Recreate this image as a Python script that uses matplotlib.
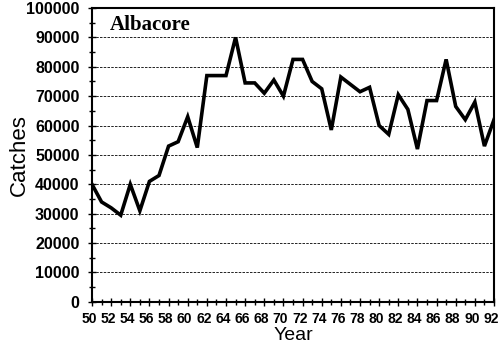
import matplotlib
matplotlib.use("Agg")
import matplotlib.pyplot as plt
import matplotlib.transforms as mtransforms
from matplotlib.ticker import MultipleLocator
from matplotlib import font_manager

years = list(range(50, 93))
catches = [40000, 34000, 32000, 29500, 40000, 31000, 41000, 43000, 53000, 54500,
           63000, 52500, 77000, 77000, 77000, 90000, 74500, 74500, 71000, 75500,
           70000, 82500, 82500, 75000, 72500, 58500, 76500, 74000, 71500, 73000,
           60000, 57000, 70500, 65500, 52000, 68500, 68500, 82500, 66500, 62000,
           68000, 53000, 62000]
xtick_labels = [str(y) for y in range(50, 93, 2)]
ytick_values = list(range(0, 100001, 10000))

names = {f.name for f in font_manager.fontManager.ttflist}
narrow = "Liberation Sans Narrow" if "Liberation Sans Narrow" in names else "DejaVu Sans Condensed" if "DejaVu Sans Condensed" in names else "Liberation Sans"

fig = plt.figure(figsize=(5.0, 3.47), dpi=100)
ax = fig.add_axes([0.184, 0.130, 0.804, 0.847])
ax.plot(years, catches, color="black", linewidth=2.6, solid_joinstyle="miter")
ax.set_xlim(50, 92)
ax.set_ylim(0, 100000)
ax.set_yticks(ytick_values)
ax.set_yticklabels([str(v) for v in ytick_values])
ax.set_xticks(list(range(50, 93, 2)))
ax.set_xticklabels(xtick_labels)
ax.xaxis.set_minor_locator(MultipleLocator(1))
ax.yaxis.set_minor_locator(MultipleLocator(5000))
ax.tick_params(axis="both", which="both", direction="inout", color="black")
ax.tick_params(axis="both", which="major", length=6, width=1)
ax.tick_params(axis="both", which="minor", length=5, width=1)
ax.tick_params(axis="x", which="major", pad=4)
ax.tick_params(axis="y", which="major", pad=6)
shift = mtransforms.ScaledTranslation(-3 / 100, 0, fig.dpi_scale_trans)
for lab in ax.get_xticklabels():
    lab.set_fontfamily(narrow)
    lab.set_fontweight("bold")
    lab.set_fontsize(10)
    lab.set_transform(lab.get_transform() + shift)
for lab in ax.get_yticklabels():
    lab.set_fontfamily("Liberation Sans")
    lab.set_fontweight("bold")
    lab.set_fontsize(11.5)
ax.grid(axis="y", which="major", linestyle=(0, (3, 1.5)), color="black", linewidth=0.6)
for s in ax.spines.values():
    s.set_linewidth(1.5)
ax.set_xlabel("Year", fontfamily="Liberation Sans", fontsize=14)
ax.set_ylabel("Catches", fontfamily="Liberation Sans", fontsize=16)
ax.xaxis.set_label_coords(0.5, -0.085)
ax.yaxis.set_label_coords(-0.155, 0.5)
ax.text(0.045, 0.975, "Albacore", transform=ax.transAxes, fontfamily="Liberation Serif",
        fontweight="bold", fontsize=15, va="top", ha="left")
fig.savefig("out.png", dpi=100)
